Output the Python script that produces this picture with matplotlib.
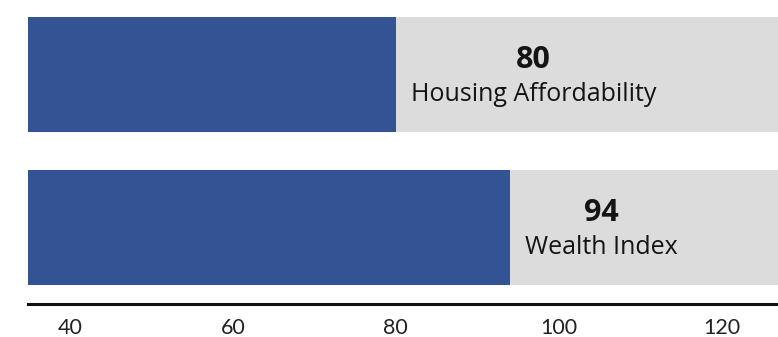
import matplotlib
matplotlib.use("Agg")
import matplotlib.pyplot as plt

# Index scores, drawn bottom to top
categories = ["Wealth Index", "Housing Affordability"]
scores = [94, 80]
ticks = [40, 60, 80, 100, 120]

BLUE = "#345394"
GRAY = "#dcdcdc"
INK = "#141414"
X_MIN, X_MAX = 34.85, 126.9

plt.rcParams["font.family"] = ["Open Sans", "DejaVu Sans"]

fig = plt.figure(figsize=(7.78, 3.37), dpi=100)
ax = fig.add_axes([28 / 778, 1 - 304 / 337, 1 - 28 / 778, 287 / 337])

ypos = list(range(len(categories)))
bar_h = 0.752

# full-width track behind each score bar
ax.barh(ypos, [X_MAX - X_MIN] * len(ypos), left=X_MIN, height=bar_h,
        color=GRAY, zorder=1)
ax.barh(ypos, [s - X_MIN for s in scores], left=X_MIN, height=bar_h,
        color=BLUE, zorder=2)

ax.set_xlim(X_MIN, X_MAX)
ax.set_ylim(-0.5, len(ypos) - 1 + bar_h / 2)

for side in ["top", "right", "left"]:
    ax.spines[side].set_visible(False)
ax.spines["bottom"].set_linewidth(2.2)
ax.spines["bottom"].set_color("#111111")
ax.set_yticks([])
ax.set_xticks(ticks)
ax.set_xticklabels([str(t) for t in ticks], fontsize=15.5, color="#222222",
                   family=["Lato", "DejaVu Sans"])
ax.tick_params(axis="x", length=0, pad=10)

# label block sits just right of the bar end, with the score centred above it
fig.canvas.draw()
renderer = fig.canvas.get_renderer()
for y, name, s in zip(ypos, categories, scores):
    lbl = ax.annotate(name, xy=(s, y), xytext=(15, -20),
                      textcoords="offset pixels", ha="left", va="center",
                      fontsize=18, color=INK, zorder=3)
    bb = lbl.get_window_extent(renderer)
    cx = (bb.x0 + bb.x1) / 2
    x_data = ax.transData.inverted().transform((cx, 0))[0]
    ax.annotate(str(s), xy=(x_data, y), xytext=(0, 15),
                textcoords="offset pixels", ha="center", va="center",
                fontsize=22, fontweight="bold", color=INK, zorder=3)

fig.savefig("out.png", dpi=100)
